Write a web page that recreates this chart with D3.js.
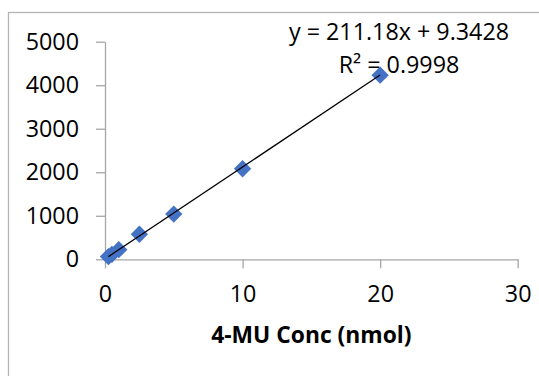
<!DOCTYPE html>
<html>
<head>
<meta charset="utf-8">
<script src="https://cdn.jsdelivr.net/npm/d3@7"></script>
<style>
  body { margin: 0; background: #fff; }
  svg { display: block; font-family: "Open Sans", sans-serif; }
  .axis path, .axis line { stroke: #a6a6a6; stroke-width: 1.3; }
  .axis text { fill: #000; font-size: 23.3px; font-family: "Open Sans", sans-serif; }
</style>
</head>
<body>
<svg id="chart" width="539" height="376"></svg>
<script>
// 4-MU standard curve
const conc = [0.25, 0.5, 1, 2.5, 5, 10, 20];
const signal = [62, 115, 222, 575, 1040, 2080, 4230];
const xTicks = [0, 10, 20, 30];
const yTicks = [0, 1000, 2000, 3000, 4000, 5000];
const slope = 211.18;
const intercept = 9.3428;
const eqLabel = "y = 211.18x + 9.3428";
const r2Label = "R² = 0.9998";
const xTitle = "4-MU Conc (nmol)";

const svg = d3.select("#chart");

// chart area border (runs off the right and bottom edge like the source)
svg.append("rect")
  .attr("x", 8.5).attr("y", 12.5)
  .attr("width", 540).attr("height", 380)
  .attr("fill", "none")
  .attr("stroke", "#b4b4b4")
  .attr("stroke-width", 1.3);

const x = d3.scaleLinear().domain([0, 30]).range([105, 517.7]);
const y = d3.scaleLinear().domain([0, 5000]).range([259.3, 41.7]);

svg.append("g")
  .attr("class", "axis")
  .attr("transform", `translate(0,${y(0)})`)
  .call(d3.axisBottom(x).tickValues(xTicks).tickFormat(d3.format("d"))
    .tickSize(9).tickSizeOuter(0).tickPadding(17))
  .call(g => g.selectAll("text").attr("dy", "0.71em"));

svg.append("g")
  .attr("class", "axis")
  .attr("transform", `translate(${x(0)},0)`)
  .call(d3.axisLeft(y).tickValues(yTicks).tickFormat(d3.format("d"))
    .tickSize(9).tickSizeOuter(0).tickPadding(17));

svg.append("text")
  .attr("x", (x(0) + x(30)) / 2)
  .attr("y", 343)
  .attr("text-anchor", "middle")
  .attr("font-size", "22.8px")
  .attr("font-weight", "bold")
  .text(xTitle);

// trendline label
const lab = svg.append("g").attr("font-size", "23.3px").attr("text-anchor", "middle");
lab.append("text").attr("x", 399).attr("y", 40).text(eqLabel);
lab.append("text").attr("x", 399).attr("y", 73).text(r2Label);

// markers
const pts = conc.map((c, i) => ({x: c, y: signal[i]}));
svg.append("g").selectAll("path").data(pts).enter().append("path")
  .attr("d", d3.symbol().type(d3.symbolSquare).size(150))
  .attr("transform", d => `translate(${x(d.x)},${y(d.y)}) rotate(45)`)
  .attr("fill", "#4472c4");

// linear trendline
const xExt = d3.extent(conc);
svg.append("path")
  .datum(xExt.map(v => ({x: v, y: slope * v + intercept})))
  .attr("d", d3.line().x(d => x(d.x)).y(d => y(d.y)))
  .attr("fill", "none")
  .attr("stroke", "#000")
  .attr("stroke-width", 1.3);
</script>
</body>
</html>
